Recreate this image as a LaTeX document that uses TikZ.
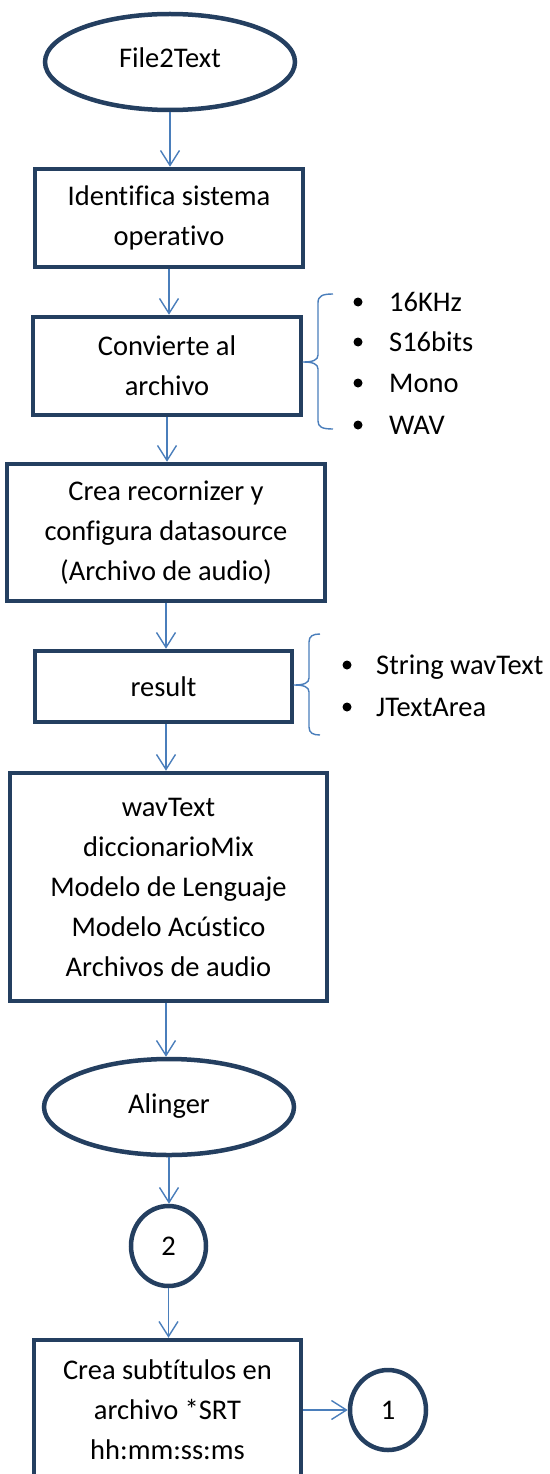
\documentclass[tikz,border=0pt]{standalone}
\usepackage{fontspec}
\setmainfont[Ligatures=NoCommon]{Carlito}
\usetikzlibrary{shapes.geometric,arrows.meta,calc}
\definecolor{frame}{RGB}{36,63,96}
\definecolor{link}{RGB}{74,126,187}
\begin{document}
\begin{tikzpicture}[x=1pt,y=-1pt,
  every node/.style={font=\fontsize{28.5}{40}\selectfont, inner sep=0pt},
  box/.style={draw=frame, line width=4.5pt, rectangle, align=center},
  oval/.style={draw=frame, line width=4.5pt, ellipse, align=center},
  arr/.style={draw=link, line width=1.4pt, -{Straight Barb[length=15pt,width=19pt]}},
  brace/.style={draw=link, line width=1.4pt, line join=round},
  dot/.style={circle, fill=black, minimum size=9pt, inner sep=0pt},
  item/.style={anchor=base west}
]
\useasboundingbox (0,0) rectangle (549,1474);

% main flow
\node[oval, minimum width=250, minimum height=96] (start) at (170,62) {\raisebox{8pt}{File2Text}};
\node[box, minimum width=268, minimum height=98] (os) at (169,218) {Identifica sistema\\operativo};
\node[box, minimum width=268, minimum height=98] (conv) at (167,366) {Convierte al\\archivo};
\node[box, minimum width=318, minimum height=137] (rec) at (166,532.5) {Crea recornizer y\\configura datasource\\(Archivo de audio)};
\node[box, minimum width=257, minimum height=71] (res) at (163.5,686.5) {result};
\node[box, minimum width=317, minimum height=228] (data) at (168.5,887) {wavText\\diccionarioMix\\Modelo de Lenguaje\\Modelo Acústico\\Archivos de audio};
\node[oval, minimum width=250, minimum height=96] (align) at (169,1107) {\raisebox{6pt}{Alinger}};
\node[oval, minimum width=75, minimum height=80] (c2) at (168.5,1246) {2};
\node[box, minimum width=267, minimum height=140] (srt) at (167.5,1410) {Crea subtítulos en\\archivo *SRT\\hh:mm:ss:ms};
\node[oval, minimum width=76, minimum height=80] (c1) at (388,1410) {1};

% connectors
\draw[arr] (start.south) -- (start.south |- os.north);
\draw[arr] (os.south) -- (os.south |- conv.north);
\draw[arr] (conv.south) -- (conv.south |- rec.north);
\draw[arr] (rec.south) -- (rec.south |- res.north);
\draw[arr] (res.south -| rec.south) -- (rec.south |- data.north);
\draw[arr] (data.south -| rec.south) -- (rec.south |- align.north);
\draw[arr] (align.south) -- (align.south |- c2.north);
\draw[arr] (c2.south) -- (c2.south |- srt.north);
\draw[arr] (srt.east) -- (c1.west);

% audio format brace and list
\draw[brace] (333,294) .. controls (322,294) and (318,296) .. (318,303) -- (318,355)
  .. controls (318,360) and (313,362) .. (303,362)
  .. controls (313,362) and (318,364) .. (318,369) -- (318,421)
  .. controls (318,427) and (322,429) .. (333,429);
\node[dot] (d1) at (358,302) {};
\node[dot] (d2) at (358,342) {};
\node[dot] (d3) at (358,383) {};
\node[dot] (d4) at (358,425) {};
\node[item] (f1) at (389,311.5) {16KHz};
\node[item] (f2) at (389,351.5) {S16bits};
\node[item] (f3) at (389,392.5) {Mono};
\node[item] (f4) at (389,434.5) {WAV};

% result brace and list
\draw[brace] (320,634) .. controls (313,634) and (309,636) .. (309,642) -- (309,678)
  .. controls (309,683) and (304,685) .. (294,685)
  .. controls (304,685) and (309,687) .. (309,692) -- (309,727)
  .. controls (309,733) and (313,735) .. (320,735);
\node[dot] (e1) at (347,665) {};
\node[dot] (e2) at (347,707) {};
\node[item] (g1) at (376,674.5) {String wavText};
\node[item] (g2) at (376,716.5) {JTextArea};
\end{tikzpicture}
\end{document}
